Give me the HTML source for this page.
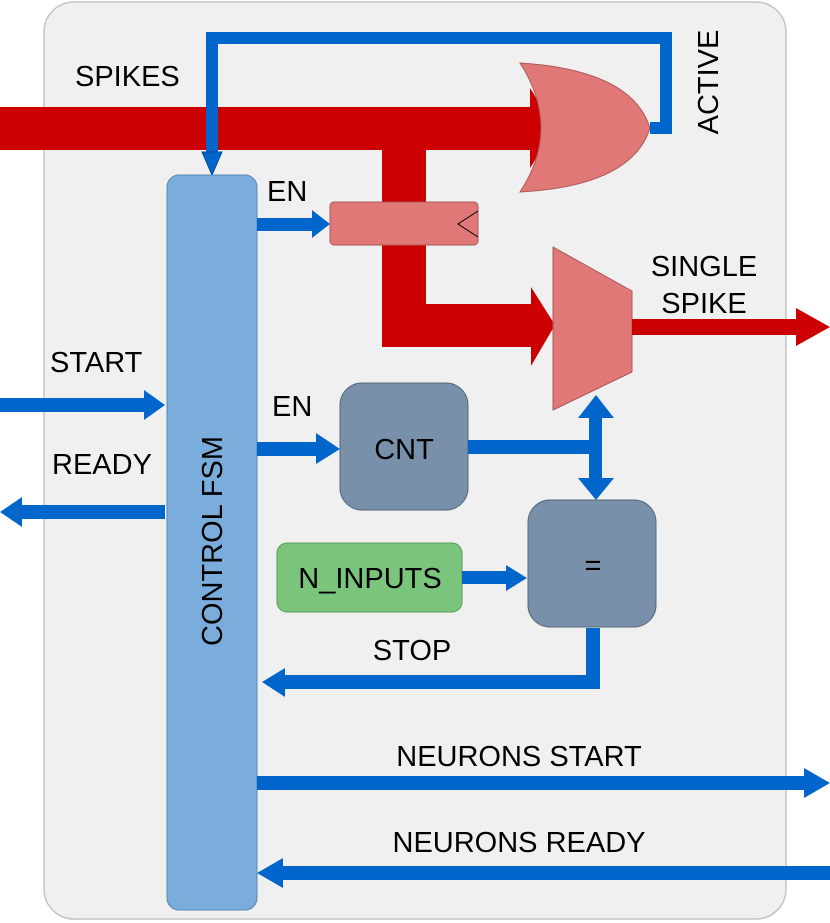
<!DOCTYPE html>
<html><head><meta charset="utf-8"><style>html,body{margin:0;padding:0;background:#fff}svg{display:block}text{font-family:"Liberation Sans",Arial,sans-serif;font-size:29px;fill:#000}</style></head><body>
<svg width="830" height="923" viewBox="0 0 830 923" xmlns="http://www.w3.org/2000/svg">
<rect x="44" y="2" width="742" height="917" rx="30" fill="#f0f0f0" stroke="#c4c4c4" stroke-width="1.5"/>
<rect x="0" y="107" width="532" height="43" fill="#cc0000"/>
<path d="M530 88 Q558 128 530 168 Z" fill="#cc0000"/>
<rect x="382" y="150" width="44" height="197" fill="#cc0000"/>
<rect x="382" y="304" width="152" height="43" fill="#cc0000"/>
<polygon points="531,287 555,325 531,366" fill="#cc0000"/>
<path d="M520 63 Q632 70 650 128 Q632 186 520 192 Q562 128 520 63 Z" fill="#e07878" stroke="#b05858" stroke-width="1"/>
<path d="M650 128 L666 128 L666 38 L212 38 L212 158" fill="none" stroke="#0066cc" stroke-width="12"/>
<polygon points="202,152 222,152 212,175" fill="#0066cc" stroke="#004c99"/>
<rect x="167" y="175" width="90" height="735" rx="12" fill="#7aacdc" stroke="#5a88b4" stroke-width="1"/>
<text transform="translate(222,541) rotate(-90)" text-anchor="middle">CONTROL FSM</text>
<rect x="257" y="218" width="58" height="13" fill="#0066cc"/>
<polygon points="312,210 330,224 312,238" fill="#0066cc"/>
<rect x="330" y="202" width="148" height="43" rx="4" fill="#e07878" stroke="#a85858" stroke-width="1"/>
<polyline points="478,211 458,224 478,237" fill="none" stroke="#000" stroke-width="1"/>
<text x="267" y="201">EN</text>
<polygon points="553,247 632,291 632,372 553,410" fill="#e07878" stroke="#a85858" stroke-width="1" stroke-linejoin="round"/>
<rect x="632" y="319" width="166" height="16" fill="#cc0000"/>
<polygon points="796,308 830,327 796,346" fill="#cc0000"/>
<text x="704" y="276" text-anchor="middle">SINGLE</text>
<text x="704" y="313" text-anchor="middle">SPIKE</text>
<text transform="translate(718,82) rotate(-90)" text-anchor="middle">ACTIVE</text>
<text x="75" y="86">SPIKES</text>
<rect x="0" y="398" width="146" height="14" fill="#0066cc"/>
<polygon points="144,390 165,405 144,420" fill="#0066cc"/>
<text x="50" y="372">START</text>
<rect x="20" y="505" width="145" height="14" fill="#0066cc"/>
<polygon points="22,497 0,512 22,527" fill="#0066cc"/>
<text x="52" y="474">READY</text>
<rect x="257" y="442" width="63" height="14" fill="#0066cc"/>
<polygon points="316,433 340,449 316,464" fill="#0066cc"/>
<text x="272" y="416">EN</text>
<rect x="340" y="383" width="128" height="127" rx="22" fill="#7890aa" stroke="#566878" stroke-width="1"/>
<text x="404" y="459" text-anchor="middle">CNT</text>
<rect x="468" y="440" width="130" height="14" fill="#0066cc"/>
<rect x="589" y="414" width="13" height="68" fill="#0066cc"/>
<polygon points="578,418 596,395 614,418" fill="#0066cc"/>
<polygon points="578,478 596,500 614,478" fill="#0066cc"/>
<rect x="528" y="500" width="128" height="127" rx="22" fill="#7890aa" stroke="#566878" stroke-width="1"/>
<text x="593" y="575" text-anchor="middle">=</text>
<rect x="277" y="543" width="185" height="69" rx="10" fill="#7bc47b" stroke="#5a9a5a" stroke-width="1"/>
<text x="370" y="588" text-anchor="middle">N_INPUTS</text>
<rect x="462" y="571" width="48" height="13" fill="#0066cc"/>
<polygon points="506,565 527,578 506,591" fill="#0066cc"/>
<path d="M593 628 L593 682 L282 682" fill="none" stroke="#0066cc" stroke-width="14"/>
<polygon points="285,668 262,682 285,697" fill="#0066cc"/>
<text x="412" y="660" text-anchor="middle">STOP</text>
<rect x="257" y="776" width="550" height="14" fill="#0066cc"/>
<polygon points="804,768 830,783 804,798" fill="#0066cc"/>
<text x="519" y="766" text-anchor="middle">NEURONS START</text>
<rect x="280" y="866" width="550" height="14" fill="#0066cc"/>
<polygon points="283,858 257,873 283,888" fill="#0066cc"/>
<text x="519" y="852" text-anchor="middle">NEURONS READY</text>
</svg>
</body></html>
